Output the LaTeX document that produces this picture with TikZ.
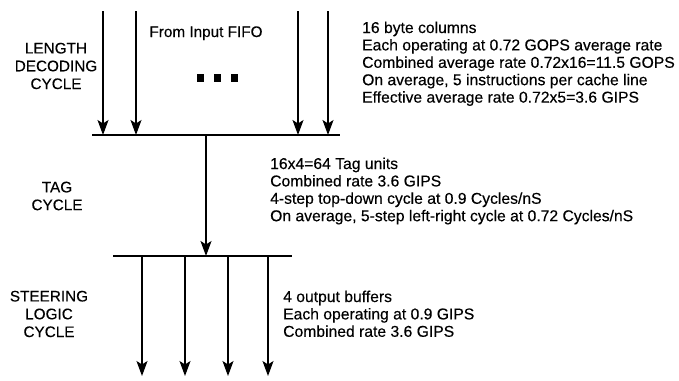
\documentclass[tikz,border=0pt]{standalone}
\usepackage{fontspec}
\setmainfont{Liberation Sans}
\newfontfamily\txtfont[FakeBold=0.3]{Liberation Sans}
\usetikzlibrary{arrows.meta}
\begin{document}
\begin{tikzpicture}[x=1pt,y=-1pt,
  flow/.style={line width=1.4pt,-{Stealth[length=15pt,width=11pt,inset=3.5pt]}},
  bus/.style={line width=1.5pt},
  info/.style={anchor=base west,inner sep=0pt,align=left,font=\txtfont\fontsize{15.7}{17.4}\selectfont},
  stage/.style={inner sep=0pt,align=center,font=\txtfont\fontsize{15.3}{17.8}\selectfont},
  dot/.style={fill=black,minimum size=7.5pt,inner sep=0pt}]
\useasboundingbox (0,0) rectangle (679,380);
% top bus
\coordinate (tl) at (92,135);
\coordinate (tr) at (340,135);
\draw[bus] (tl) -- (tr);
\foreach \i/\xx in {1/103,2/136,3/298,4/328}{
  \coordinate (s\i) at (\xx,11);
  \coordinate (e\i) at (\xx,135);
  \draw[flow] (s\i) -- (e\i);
}
\node[inner sep=0pt,anchor=base,font=\txtfont\fontsize{15.3}{17}\selectfont] (fifo) at (206,37) {From Input FIFO};
\node[dot] (d1) at (200.5,78) {};
\node[dot] (d2) at (217.5,78) {};
\node[dot] (d3) at (234.5,78) {};
% middle
\coordinate (m1) at (206,135);
\coordinate (m2) at (206,256);
\draw[flow] (m1) -- (m2);
% bottom bus
\coordinate (bl) at (113,256);
\coordinate (br) at (292,256);
\draw[bus] (bl) -- (br);
\foreach \i/\xx in {1/142,2/185,3/228,4/268}{
  \coordinate (b\i) at (\xx,256);
  \coordinate (o\i) at (\xx,376);
  \draw[flow] (b\i) -- (o\i);
}
% stage labels
\node[stage] (ldc) at (56,66) {LENGTH\\DECODING\\CYCLE};
\node[stage] (tag) at (57,196) {TAG\\CYCLE};
\node[stage] (slc) at (49,314) {STEERING\\LOGIC\\CYCLE};
% info texts (base = baseline of last line)
\node[info] (i1) at (362,102.6) {16 byte columns\\Each operating at 0.72 GOPS average rate\\Combined average rate 0.72x16=11.5 GOPS\\On average, 5 instructions per cache line\\Effective average rate 0.72x5=3.6 GIPS};
\node[info] (i2) at (270,221.2) {16x4=64 Tag units\\Combined rate 3.6 GIPS\\4-step top-down cycle at 0.9 Cycles/nS\\On average, 5-step left-right cycle at 0.72 Cycles/nS};
\node[info] (i3) at (283,336.8) {4 output buffers\\Each operating at 0.9 GIPS\\Combined rate 3.6 GIPS};
\end{tikzpicture}
\end{document}
